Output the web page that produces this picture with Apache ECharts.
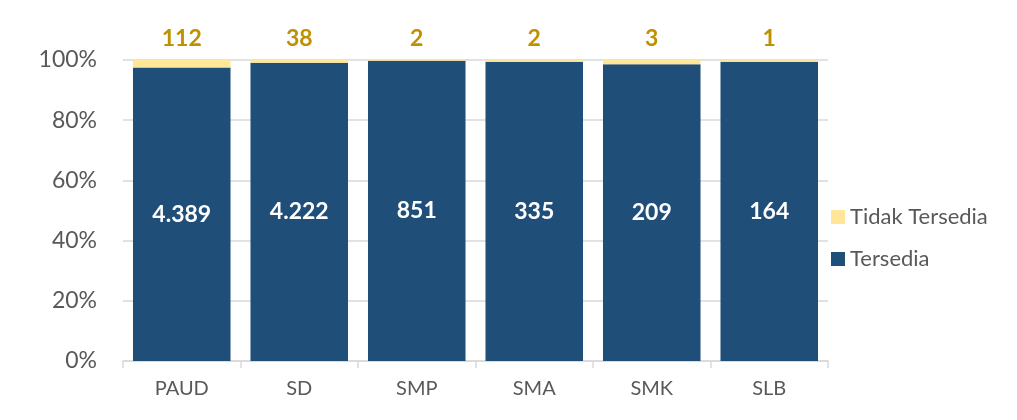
<!DOCTYPE html>
<html><head><meta charset="utf-8">
<script src="https://cdn.jsdelivr.net/npm/echarts@6/dist/echarts.min.js"></script>
<style>html,body{margin:0;padding:0;background:#fff}#c{width:1017px;height:420px}</style>
</head><body><div id="c"></div>
<script>
const categories = ['PAUD','SD','SMP','SMA','SMK','SLB'];
const tersedia = [4389, 4222, 851, 335, 209, 164];
const tidakTersedia = [112, 38, 2, 2, 3, 1];
const yTicks = ['0%','20%','40%','60%','80%','100%'];

const totals = categories.map((_, i) => tersedia[i] + tidakTersedia[i]);
const pctT = tersedia.map((v, i) => ({ value: v / totals[i] * 100, raw: v }));
const pctN = tidakTersedia.map((v, i) => ({ value: v / totals[i] * 100, raw: v }));
const fmt = n => n.toLocaleString('de-DE');
const FONT = 'Lato, "Open Sans", sans-serif';

const chart = echarts.init(document.getElementById('c'));
chart.setOption({
  animation: false,
  textStyle: { fontFamily: FONT },
  grid: { left: 123, right: 189, top: 60, bottom: 59 },
  legend: {
    orient: 'vertical', left: 826, top: 201, itemGap: 20,
    itemWidth: 14, itemHeight: 14, icon: 'rect',
    data: ['Tidak Tersedia', 'Tersedia'],
    textStyle: { fontSize: 22, color: '#595959', fontFamily: FONT, padding: [0, 0, 0, 0] }
  },
  xAxis: {
    type: 'category', data: categories,
    axisLine: { lineStyle: { color: '#d9d9d9', width: 1.5 } },
    axisTick: { show: true, length: 7, lineStyle: { color: '#d9d9d9', width: 1.5 } },
    axisLabel: { fontSize: 20, color: '#595959', margin: 18, fontFamily: FONT }
  },
  yAxis: {
    type: 'value', min: 0, max: 100, interval: 20,
    axisLine: { show: false }, axisTick: { show: false },
    splitLine: { lineStyle: { color: '#d9d9d9', width: 1.5 } },
    axisLabel: {
      fontSize: 23, color: '#595959', margin: 26, fontFamily: FONT,
      formatter: v => yTicks[Math.round(v / 20)]
    }
  },
  series: [
    {
      name: 'Tersedia', type: 'bar', stack: 's', barCategoryGap: '17%',
      data: pctT,
      itemStyle: { color: '#1F4E79' },
      label: {
        show: true, position: 'inside', color: '#ffffff', fontSize: 23,
        fontWeight: 'bold', fontFamily: FONT,
        formatter: p => fmt(p.data.raw)
      }
    },
    {
      name: 'Tidak Tersedia', type: 'bar', stack: 's',
      data: pctN,
      itemStyle: { color: '#FFE699' },
      label: {
        show: true, position: 'top', distance: 10, color: '#BF9000', fontSize: 23,
        fontWeight: 'bold', fontFamily: FONT,
        formatter: p => fmt(p.data.raw)
      }
    }
  ]
});
</script></body></html>
